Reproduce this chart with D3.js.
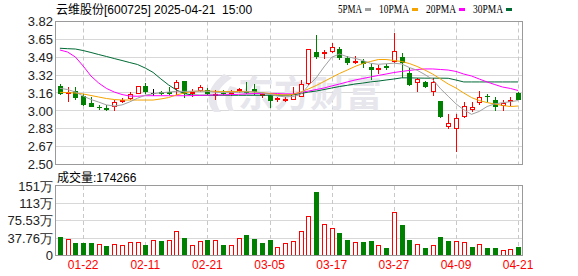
<!DOCTYPE html>
<html>
<head>
<meta charset="utf-8">
<script src="https://cdn.jsdelivr.net/npm/d3@7"></script>
<style>
  body { margin: 0; background: #fff; }
  svg { display: block; font-family: "Liberation Sans", "Noto Sans CJK SC", sans-serif; }
</style>
</head>
<body>
<svg id="chart" width="578" height="276"></svg>
<script>
// trading days shown on the chart
const dates = ['01-17','01-20','01-21','01-22','01-23','01-24','01-27','02-05','02-06','02-07',
  '02-10','02-11','02-12','02-13','02-14','02-17','02-18','02-19','02-20','02-21',
  '02-24','02-25','02-26','02-27','02-28','03-03','03-04','03-05','03-06','03-07',
  '03-10','03-11','03-12','03-13','03-14','03-17','03-18','03-19','03-20','03-21',
  '03-24','03-25','03-26','03-27','03-28','03-31','04-01','04-02','04-03','04-07',
  '04-08','04-09','04-10','04-11','04-14','04-15','04-16','04-17','04-18','04-21'];
const tickDates = ['01-22','02-11','02-21','03-05','03-17','03-27','04-09','04-21'];

const open = [3.225,3.155,3.178,3.132,3.070,3.030,3.025,3.033,3.087,3.107,
  3.155,3.225,3.157,3.166,3.165,3.197,3.270,3.148,3.178,3.188,
  3.140,3.158,3.155,3.180,3.170,3.200,3.145,3.142,3.093,3.092,
  3.100,3.126,3.240,3.535,3.528,3.535,3.566,3.480,3.440,3.455,
  3.400,3.372,3.410,3.450,3.495,3.342,3.250,3.265,3.166,3.086,
  2.850,2.825,2.941,3.003,3.065,3.135,3.100,3.043,3.080,3.157];
const high = [3.243,3.220,3.213,3.150,3.120,3.045,3.045,3.095,3.110,3.170,
  3.228,3.250,3.196,3.180,3.215,3.280,3.270,3.195,3.234,3.203,
  3.190,3.190,3.190,3.210,3.265,3.240,3.160,3.145,3.120,3.120,
  3.213,3.280,3.570,3.698,3.557,3.620,3.587,3.500,3.500,3.470,
  3.435,3.420,3.430,3.717,3.526,3.388,3.296,3.270,3.296,3.090,
  2.966,2.963,3.074,3.074,3.178,3.150,3.125,3.100,3.125,3.166];
const low = [3.142,3.075,3.100,3.043,3.028,3.000,2.995,2.995,3.070,3.095,
  3.150,3.150,3.135,3.140,3.140,3.140,3.110,3.125,3.170,3.140,
  3.100,3.140,3.130,3.160,3.150,3.140,3.115,3.020,3.075,3.080,
  3.095,3.120,3.230,3.470,3.470,3.530,3.465,3.420,3.430,3.390,
  3.280,3.340,3.370,3.440,3.296,3.225,3.172,3.210,3.135,2.930,
  2.825,2.611,2.930,2.987,3.050,3.074,2.996,2.995,3.043,3.095];
const close = [3.151,3.165,3.111,3.049,3.028,3.022,3.005,3.074,3.100,3.148,
  3.225,3.166,3.157,3.155,3.155,3.264,3.148,3.170,3.218,3.148,
  3.155,3.150,3.165,3.200,3.165,3.170,3.152,3.090,3.110,3.108,
  3.150,3.240,3.563,3.490,3.535,3.582,3.480,3.440,3.455,3.425,
  3.372,3.390,3.395,3.548,3.434,3.234,3.290,3.218,3.265,2.935,
  2.880,2.927,3.040,3.028,3.120,3.120,3.033,3.065,3.100,3.100];

const ma5 = [3.203,3.192,3.169,3.132,3.100,3.076,3.050,3.040,3.050,3.078,
  3.112,3.140,3.153,3.162,3.168,3.176,3.175,3.176,3.178,3.175,
  3.166,3.166,3.166,3.166,3.170,3.170,3.162,3.148,3.132,3.125,
  3.127,3.145,3.228,3.300,3.400,3.490,3.520,3.495,3.480,3.460,
  3.434,3.425,3.430,3.435,3.428,3.395,3.370,3.330,3.285,3.200,
  3.130,3.060,3.005,2.963,2.990,3.035,3.060,3.070,3.080,3.090];
const ma10 = [3.166,3.164,3.160,3.151,3.137,3.123,3.109,3.100,3.095,3.095,
  3.095,3.095,3.095,3.105,3.118,3.142,3.160,3.174,3.178,3.178,
  3.175,3.174,3.174,3.174,3.174,3.169,3.164,3.155,3.146,3.142,
  3.146,3.169,3.197,3.229,3.266,3.303,3.340,3.372,3.405,3.432,
  3.451,3.469,3.469,3.460,3.451,3.432,3.405,3.372,3.335,3.289,
  3.243,3.206,3.160,3.118,3.090,3.072,3.058,3.045,3.035,3.040];
const ma20 = [3.557,3.538,3.492,3.409,3.317,3.252,3.202,3.169,3.146,3.132,
  3.130,3.135,3.135,3.135,3.135,3.135,3.135,3.136,3.138,3.140,
  3.142,3.143,3.145,3.148,3.152,3.155,3.156,3.156,3.155,3.152,
  3.151,3.165,3.178,3.192,3.206,3.225,3.243,3.262,3.280,3.294,
  3.308,3.322,3.335,3.349,3.359,3.368,3.377,3.382,3.382,3.377,
  3.372,3.359,3.335,3.317,3.289,3.262,3.238,3.215,3.202,3.183];
const ma30 = [3.573,3.569,3.566,3.552,3.534,3.515,3.497,3.478,3.460,3.441,
  3.423,3.390,3.350,3.290,3.234,3.188,3.155,3.142,3.139,3.139,
  3.139,3.139,3.139,3.139,3.139,3.139,3.139,3.139,3.139,3.140,
  3.142,3.155,3.169,3.178,3.192,3.206,3.220,3.231,3.243,3.252,
  3.262,3.270,3.280,3.289,3.300,3.300,3.298,3.297,3.297,3.297,
  3.296,3.280,3.262,3.262,3.262,3.262,3.262,3.262,3.262,3.262];

// volume in 万 and whether the bar is drawn as a rising (red) bar
const volume = [41,36.7,26.6,26.6,28,25.9,21.6,25.9,23.7,30.2,
  30.2,23.7,34.5,30.9,34.5,54,38.8,23.7,32.4,33,
  33,23.7,23.7,38.8,45.3,36.7,28,33,19.4,28,
  32.4,54,86.3,138,68.4,59.8,49.6,34.5,30.2,30.2,
  32.4,23.7,17.3,95,66.9,34.5,25.9,17.3,23.7,41,
  32.4,32.4,30.2,19.4,25.9,17.3,17.3,13,15.1,17.43];
const volumeUp = [0,1,0,0,0,1,0,1,1,1, 1,0,1,0,1,1,0,1,1,0,
  1,0,1,1,0,0,0,0,1,1, 1,1,1,0,1,1,0,0,1,0,
  0,1,0,1,0,0,1,0,1,0, 0,1,1,0,1,0,0,1,1,0];

const priceTicks = [2.50,2.665,2.83,2.995,3.16,3.325,3.49,3.655,3.82];
const priceTickLabels = ['2.50','2.67','2.83','3.00','3.16','3.32','3.49','3.65','3.82'];
const volTicks = [0,37.765,75.53,113.295,151.06];
const volTickLabels = ['0','37.76万','75.53万','113万','151万'];

const maNames = ['5PMA','10PMA','20PMA','30PMA'];
const maColors = ['#a0a0a0','#f5a300','#ff00ff','#006a35'];
const maValues = [ma5, ma10, ma20, ma30];

const title = '云维股份[600725] 2025-04-21  15:00';
const volTitle = '成交量:174266';

const RED = '#ff0000', GREEN = '#008000';

const svg = d3.select('#chart');
const pLeft = 56, pRight = 522, pTop = 21.5, pBottom = 164.5, vTop = 186, vBottom = 255.5;

const x = d3.scaleBand().domain(d3.range(dates.length)).range([pLeft, pRight]);
const cx = i => Math.round(x(i) + x.bandwidth() / 2);
const y = d3.scaleLinear().domain([2.50, 3.82]).range([pBottom, pTop]);
const yv = d3.scaleLinear().domain([0, 151.06]).range([vBottom, vTop]);
const px = v => Math.round(v - 0.5) + 0.5;

// horizontal grid
const grid = svg.append('g').attr('stroke', '#d8d8d8').attr('stroke-width', 1);
grid.selectAll('.hp').data(priceTicks.slice(1, -1)).join('line')
    .attr('x1', pLeft).attr('x2', pRight)
    .attr('y1', d => px(y(d))).attr('y2', d => px(y(d)));
grid.selectAll('.hv').data(volTicks.slice(1, -1)).join('line')
    .attr('x1', pLeft).attr('x2', pRight)
    .attr('y1', d => px(yv(d))).attr('y2', d => px(yv(d)));

// vertical dashed lines at the date ticks
const tickIdx = tickDates.map(d => dates.indexOf(d));
const vgrid = svg.append('g').attr('stroke', '#c8c8c8').attr('stroke-dasharray', '4,3');
tickIdx.forEach(i => {
  vgrid.append('line').attr('x1', cx(i) + 0.5).attr('x2', cx(i) + 0.5).attr('y1', pTop).attr('y2', pBottom);
  vgrid.append('line').attr('x1', cx(i) + 0.5).attr('x2', cx(i) + 0.5).attr('y1', vTop).attr('y2', vBottom);
});

// watermark
const wm = svg.append('g').attr('fill', '#e6e6ec');
wm.append('path')
    .attr('d', 'M224 74 C208 86 204 101 214 112 L221 112 C213 101 216 88 232 78 Z M230 86 C224 95 224 104 229 111 L234 111 C230 103 231 95 237 88 Z');
wm.append('text')
    .attr('x', 238).attr('y', 107)
    .attr('font-size', 36).attr('font-weight', 'bold')
    .attr('font-family', '"Noto Sans CJK SC", sans-serif')
    .text('东方财富');

// candles
const candles = svg.append('g').attr('shape-rendering', 'crispEdges');
dates.forEach((d, i) => {
  const c = cx(i);
  const o = open[i], cl = close[i];
  const yTop = Math.round(y(Math.max(o, cl))), yBot = Math.round(y(Math.min(o, cl)));
  const g = candles.append('g');
  if (cl > o) {
    g.append('line').attr('x1', c + 0.5).attr('x2', c + 0.5)
        .attr('y1', y(high[i])).attr('y2', yTop).attr('stroke', RED);
    g.append('line').attr('x1', c + 0.5).attr('x2', c + 0.5)
        .attr('y1', Math.max(yBot, yTop + 1)).attr('y2', y(low[i])).attr('stroke', RED);
    if (yBot - yTop < 2) {
      g.append('rect').attr('x', c - 2).attr('y', yTop).attr('width', 5).attr('height', 2).attr('fill', RED);
    } else {
      g.append('rect').attr('x', c - 1.5).attr('y', yTop + 0.5).attr('width', 4).attr('height', yBot - yTop - 1)
          .attr('fill', '#fff').attr('stroke', RED);
    }
  } else {
    const col = cl < o ? GREEN : '#000';
    g.append('line').attr('x1', c + 0.5).attr('x2', c + 0.5)
        .attr('y1', y(high[i])).attr('y2', y(low[i])).attr('stroke', col);
    g.append('rect').attr('x', c - 2).attr('y', yTop).attr('width', 5)
        .attr('height', Math.max(1, yBot - yTop)).attr('fill', col);
  }
});

// moving averages
const line = d3.line().x((d, i) => x(i) + x.bandwidth() / 2).y(d => y(d));
maValues.slice().reverse().forEach((vals, k) => {
  svg.append('path')
      .attr('d', line(vals))
      .attr('fill', 'none')
      .attr('stroke', maColors[maValues.length - 1 - k])
      .attr('stroke-width', 1);
});

// volume bars
const vol = svg.append('g').attr('shape-rendering', 'crispEdges');
volume.forEach((v, i) => {
  const c = cx(i);
  const yt = Math.round(yv(v));
  if (volumeUp[i]) {
    vol.append('rect').attr('x', c - 1.5).attr('y', yt + 0.5).attr('width', 4).attr('height', vBottom - yt - 1)
        .attr('fill', '#fff').attr('stroke', RED);
  } else {
    vol.append('rect').attr('x', c - 2).attr('y', yt).attr('width', 5).attr('height', vBottom - yt).attr('fill', GREEN);
  }
});

// panel borders
svg.append('rect').attr('x', pLeft - 0.5).attr('y', pTop).attr('width', pRight - pLeft + 1).attr('height', pBottom - pTop)
    .attr('fill', 'none').attr('stroke', '#9a9a9a');
svg.append('rect').attr('x', pLeft - 0.5).attr('y', vTop - 0.5).attr('width', pRight - pLeft + 1).attr('height', vBottom - vTop + 0.5)
    .attr('fill', 'none').attr('stroke', '#9a9a9a');

// axes
const yAxis = svg.append('g').attr('transform', `translate(${pLeft},0)`)
    .call(d3.axisLeft(y).tickValues(priceTicks).tickFormat((d, i) => priceTickLabels[i]).tickSize(0).tickPadding(3));
const vAxis = svg.append('g').attr('transform', `translate(${pLeft},0)`)
    .call(d3.axisLeft(yv).tickValues(volTicks).tickFormat((d, i) => volTickLabels[i]).tickSize(0).tickPadding(3));
const xAxis = svg.append('g').attr('transform', `translate(0,${vBottom})`)
    .call(d3.axisBottom(x).tickValues(tickIdx).tickFormat(i => dates[i]).tickSize(0).tickPadding(5));
[yAxis, vAxis, xAxis].forEach(a => {
  a.select('.domain').remove();
  a.selectAll('text').attr('font-family', null).attr('font-size', 13).attr('fill', '#222');
});
xAxis.selectAll('text').attr('font-size', 12).attr('fill', RED);

// titles
svg.append('text').attr('x', 56).attr('y', 14).attr('font-size', 12).attr('fill', '#000')
    .style('white-space', 'pre').text(title);
svg.append('text').attr('x', 57).attr('y', 182).attr('font-size', 12).attr('fill', '#000').text(volTitle);

// legend
let lx = 338;
maNames.forEach((name, k) => {
  const w = name.length * 6;
  svg.append('text').attr('x', lx).attr('y', 13).attr('font-size', 12)
      .attr('font-family', '"Liberation Serif", serif')
      .attr('textLength', w).attr('lengthAdjust', 'spacingAndGlyphs')
      .attr('fill', '#000').text(name);
  svg.append('line').attr('x1', lx + w + 3).attr('x2', lx + w + 9).attr('y1', 9.5).attr('y2', 9.5)
      .attr('stroke', maColors[k]).attr('stroke-width', 3);
  lx += w + 17;
});
</script>
</body>
</html>
